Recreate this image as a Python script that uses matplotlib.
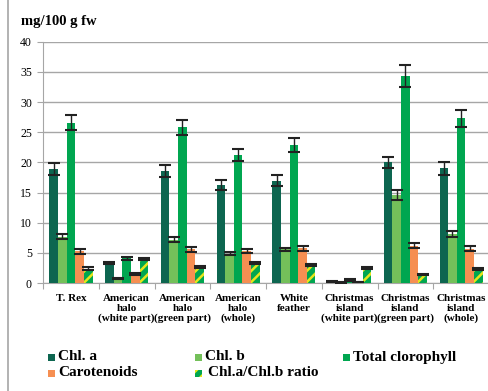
import matplotlib
matplotlib.use("Agg")
import matplotlib.pyplot as plt
import matplotlib.patches as mpatches
from matplotlib.lines import Line2D
import numpy as np

plt.rcParams["font.family"] = ["Liberation Serif", "DejaVu Serif"]
plt.rcParams["hatch.linewidth"] = 1.8

CATEGORIES = [
    "T. Rex",
    "American\nhalo\n(white part)",
    "American\nhalo\n(green part)",
    "American\nhalo\n(whole)",
    "White\nfeather",
    "Christmas\nisland\n(white part)",
    "Christmas\nisland\n(green part)",
    "Christmas\nisland\n(whole)",
]

SERIES = ["Chl. a", "Chl. b", "Total clorophyll", "Carotenoids", "Chl.a/Chl.b ratio"]

CHL_A     = [18.9, 3.3, 18.6, 16.3, 17.0, 0.3, 20.0, 19.0]
CHL_B     = [7.7, 0.8, 7.2, 4.9, 5.6, 0.1, 14.6, 8.1]
TOTAL     = [26.6, 4.1, 25.8, 21.2, 22.9, 0.5, 34.3, 27.3]
CAROT     = [5.3, 1.5, 5.6, 5.3, 5.8, 0.2, 6.2, 5.7]
RATIO     = [2.4, 4.0, 2.6, 3.3, 3.0, 2.5, 1.4, 2.4]

CHL_A_ERR = [1.0, 0.2, 1.0, 0.8, 0.9, 0.05, 0.9, 1.0]
CHL_B_ERR = [0.4, 0.05, 0.4, 0.3, 0.3, 0.05, 0.8, 0.5]
TOTAL_ERR = [1.3, 0.2, 1.3, 1.0, 1.1, 0.1, 1.8, 1.4]
CAROT_ERR = [0.4, 0.1, 0.4, 0.3, 0.4, 0.05, 0.4, 0.4]
RATIO_ERR = [0.2, 0.2, 0.15, 0.15, 0.15, 0.15, 0.1, 0.15]

COLORS = ["#0d6650", "#74c05a", "#00a650", "#f68f52", "#00a650"]

values = [CHL_A, CHL_B, TOTAL, CAROT, RATIO]
errors = [CHL_A_ERR, CHL_B_ERR, TOTAL_ERR, CAROT_ERR, RATIO_ERR]

fig = plt.figure(figsize=(4.89, 3.91), dpi=100)
ax = fig.add_axes([0.088, 0.276, 0.912, 0.617])

x = np.arange(len(CATEGORIES))
w = 0.155
for i, (vals, errs, col) in enumerate(zip(values, errors, COLORS)):
    pos = x + (i - 2) * w
    if i == 4:
        ax.bar(pos, vals, w, color=col, edgecolor="#e6e61a", linewidth=0,
               hatch="///", zorder=3)
    else:
        ax.bar(pos, vals, w, color=col, linewidth=0, zorder=3)
    ax.errorbar(pos, vals, yerr=errs, fmt="none", ecolor="#222222",
                elinewidth=1.0, capsize=4, capthick=1.5, zorder=4)

ax.set_xlim(-0.5, len(CATEGORIES) - 0.5)
ax.set_ylim(0, 40)
ax.set_yticks(range(0, 41, 5))
ax.yaxis.grid(True, color="#a6a6a6", linewidth=1.0, zorder=0)
ax.set_axisbelow(True)
for s in ["top", "right"]:
    ax.spines[s].set_visible(False)
ax.spines["left"].set_color("#a6a6a6")
ax.spines["bottom"].set_color("#a6a6a6")
ax.tick_params(axis="y", length=4, color="#a6a6a6", labelsize=8.5, pad=4)
ax.set_xticks(np.arange(len(CATEGORIES) + 1) - 0.5, minor=False)
ax.set_xticklabels([])
ax.tick_params(axis="x", length=4, color="#a6a6a6")
for xi, lab in zip(x, CATEGORIES):
    ax.text(xi, -1.8, lab, ha="center", va="top", fontsize=8,
            fontweight="bold", linespacing=1.1, transform=ax.transData)

fig.text(0.042, 0.945, "mg/100 g fw", fontsize=10.5, fontweight="bold",
         ha="left", va="center")

# left frame line
fig.add_artist(Line2D([0.017, 0.017], [0, 1], color="#a6a6a6", linewidth=1.2))

# legend drawn by hand
legend_pos = [(50, 357), (197, 357), (345, 357), (50, 373), (197, 373)]
W, H = 489.0, 391.0
for i, (name, col) in enumerate(zip(SERIES, COLORS)):
    px, py = legend_pos[i]
    sq = 7
    kw = dict(facecolor=col, linewidth=0, transform=fig.transFigure)
    if i == 4:
        kw.update(hatch="///", edgecolor="#e6e61a")
    fig.add_artist(mpatches.Rectangle(((px - 2) / W, 1 - (py + sq / 2) / H),
                                      sq / W, sq / H, **kw))
    fig.text((px + 8 + (3 if i == 4 else 0)) / W, 1 - py / H, name,
             fontsize=11, fontweight="bold", ha="left", va="center")

fig.savefig("out.png", dpi=100)
